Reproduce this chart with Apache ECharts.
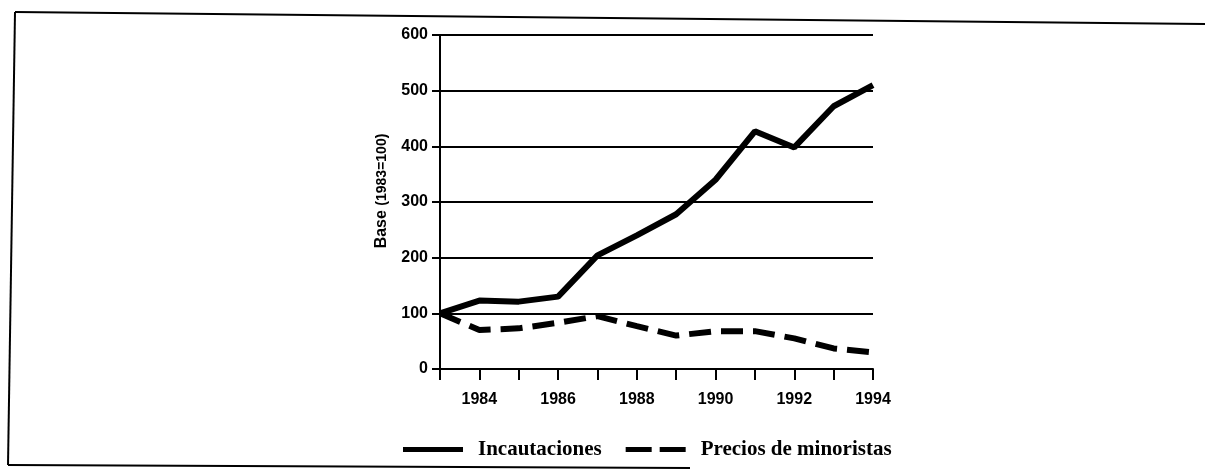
<!DOCTYPE html>
<html>
<head>
<meta charset="utf-8">
<script src="https://cdn.jsdelivr.net/npm/echarts@6/dist/echarts.min.js"></script>
<style>
  html, body { margin: 0; padding: 0; background: #fff; }
  #chart { width: 1205px; height: 473px; }
</style>
</head>
<body>
<div id="chart"></div>
<script>
// years on the x axis
const years = [1983, 1984, 1985, 1986, 1987, 1988, 1989, 1990, 1991, 1992, 1993, 1994]
// index values, base 1983 = 100
const incautaciones = [100, 123, 121, 130, 204, 240, 278, 340, 427, 398, 472, 510]
const preciosMinoristas = [100, 70, 73, 83, 95, 77, 60, 68, 68, 55, 37, 30]
const yTicks = [0, 100, 200, 300, 400, 500, 600]
const xLabelYears = [1984, 1986, 1988, 1990, 1992, 1994]

const chart = echarts.init(document.getElementById('chart'))

const axisFont = { fontFamily: 'Liberation Sans', fontWeight: 'bold', fontSize: 16, color: '#000' }

const options = {
    animation: false,
    backgroundColor: '#fff',
    grid: { left: 440, right: 332, top: 35, bottom: 104 },
    xAxis: {
        type: 'value',
        min: years[0],
        max: years[years.length - 1],
        interval: 1,
        splitLine: { show: false },
        axisLine: { onZero: false, lineStyle: { color: '#000', width: 2 } },
        axisTick: { show: true, length: 11, lineStyle: { color: '#000', width: 2 } },
        axisLabel: {
            ...axisFont,
            margin: 23,
            formatter: v => xLabelYears.includes(v) ? String(v) : ''
        }
    },
    yAxis: {
        type: 'value',
        min: yTicks[0],
        max: yTicks[yTicks.length - 1],
        interval: 100,
        name: '{a|Base }{b|(1983=100)}',
        nameLocation: 'middle',
        nameGap: 50,
        nameRotate: 90,
        nameTextStyle: {
            padding: [0, 0, 0, 22],
            rich: {
                a: { fontFamily: 'Liberation Sans', fontWeight: 'bold', fontSize: 16, color: '#000' },
                b: { fontFamily: 'Liberation Sans', fontWeight: 'bold', fontSize: 14, color: '#000' }
            }
        },
        axisLine: { show: true, lineStyle: { color: '#000', width: 2 } },
        axisTick: { show: true, length: 8, lineStyle: { color: '#000', width: 2 } },
        axisLabel: { ...axisFont, margin: 12 },
        splitLine: { lineStyle: { color: '#000', width: 2 } }
    },
    legend: {
        top: 434,
        left: 398,
        itemWidth: 60,
        itemHeight: 5,
        itemGap: 24,
        textStyle: { fontFamily: 'Liberation Serif', fontWeight: 'bold', fontSize: 21, color: '#000', padding: [0, 0, 0, 10] },
        data: [
            { name: 'Incautaciones', icon: 'path://M0,0H60V5H0Z' },
            { name: 'Precios de minoristas', icon: 'path://M0,0H26V5H0ZM34,0H60V5H34Z' }
        ]
    },
    series: [
        {
            name: 'Incautaciones',
            type: 'line',
            symbol: 'none',
            data: years.map((y, i) => [y, incautaciones[i]]),
            lineStyle: { color: '#000', width: 6 },
            itemStyle: { color: '#000' }
        },
        {
            name: 'Precios de minoristas',
            type: 'line',
            symbol: 'none',
            data: years.map((y, i) => [y, preciosMinoristas[i]]),
            lineStyle: { color: '#000', width: 6, type: [22, 10] },
            itemStyle: { color: '#000' }
        }
    ],
    // the page frame around the figure
    graphic: [
        { type: 'line', shape: { x1: 15, y1: 12, x2: 1205, y2: 24 }, style: { stroke: '#000', lineWidth: 2 } },
        { type: 'line', shape: { x1: 15, y1: 12, x2: 8, y2: 465 }, style: { stroke: '#000', lineWidth: 2 } },
        { type: 'line', shape: { x1: 8, y1: 465, x2: 690, y2: 468 }, style: { stroke: '#000', lineWidth: 2 } }
    ]
}

chart.setOption(options)
</script>
</body>
</html>
